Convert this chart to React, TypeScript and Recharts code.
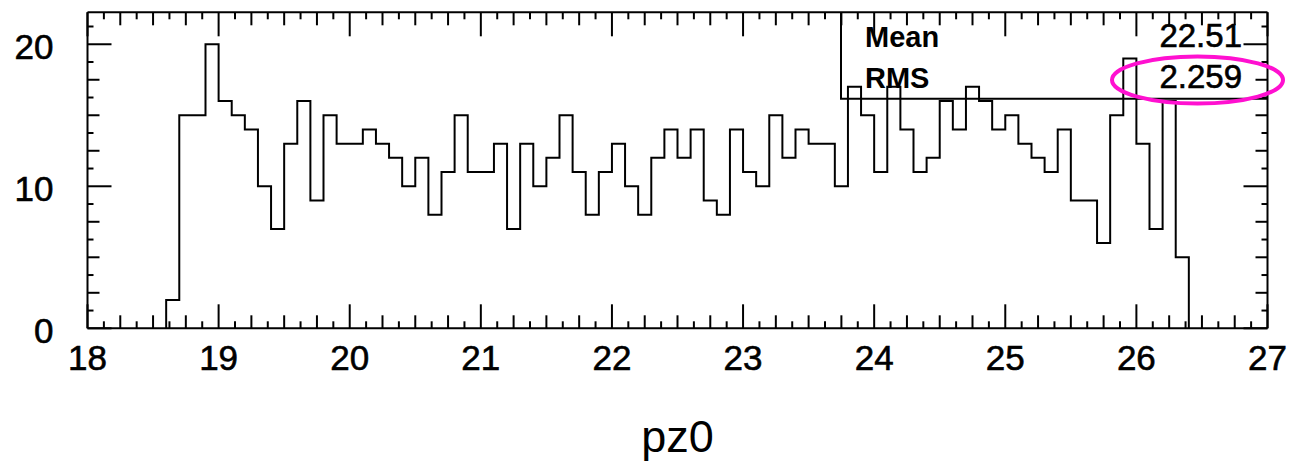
import React from 'react'
import { LineChart, Line, XAxis, YAxis } from 'recharts'

// histogram pz0: bins of 0.1 starting at 18.6
const binStart = 18.6
const binWidth = 0.1
const counts = [
  2, 15, 15, 20, 16, 15, 14, 10, 7, 13,
  16, 9, 15, 13, 13, 14, 13, 12, 10, 12,
  8, 11, 15, 11, 11, 13, 7, 13, 10, 12,
  15, 11, 8, 11, 13, 10, 8, 12, 14, 12,
  14, 9, 8, 14, 11, 10, 15, 12, 14, 13,
  13, 10, 17, 15, 11, 17, 14, 11, 12, 16,
  14, 17, 16, 14, 15, 13, 12, 11, 14, 9,
  9, 6, 15, 19, 13, 7, 16, 5,
]

const xLabels = [18, 19, 20, 21, 22, 23, 24, 25, 26, 27]
const yLabels = [0, 10, 20]
const statNames = ['Mean', 'RMS']
const statValues = ['22.51', '2.259']

const FONT = '"Liberation Sans", Arial, Helvetica, sans-serif'
const W = 1293
const H = 465

const round3 = (v: number) => Math.round(v * 1000) / 1000

const histData = (() => {
  const pts: { x: number; y: number }[] = [{ x: binStart, y: 0 }]
  counts.forEach((c, i) => pts.push({ x: round3(binStart + i * binWidth), y: c }))
  const end = round3(binStart + counts.length * binWidth)
  pts.push({ x: end, y: counts[counts.length - 1] })
  pts.push({ x: end, y: 0 })
  return pts
})()

// ROOT style ticks: 8 divisions per unit on x, 1.25 steps on y
const xTicks: number[] = []
for (let v = 18; v <= 27.0001; v += 0.125) xTicks.push(round3(v))
const yTicks: number[] = []
for (let v = 0; v <= 22.2; v += 1.25) yTicks.push(round3(v))

const isInt = (v: number) => Math.abs(v - Math.round(v)) < 1e-6

const xLen = (v: number) => (isInt(v) ? 24 : isInt(v * 4) ? 13 : 7)
const yLen = (v: number) => (isInt(v / 10) ? 24 : isInt(v / 2.5) ? 12 : 6)

const BottomTick = ({ x, y, payload }: any) => {
  const v = payload.value
  return (
    <g>
      <line x1={x} x2={x} y1={y} y2={y - xLen(v)} stroke="#000" strokeWidth={2} />
      {xLabels.includes(v) && (
        <text x={x} y={y + 42} textAnchor="middle" fontFamily={FONT} fontSize={35} fill="#000" stroke="#000" strokeWidth={0.6}>
          {v}
        </text>
      )}
    </g>
  )
}

const TopTick = ({ x, y, payload }: any) => (
  <line x1={x} x2={x} y1={y} y2={y + xLen(payload.value)} stroke="#000" strokeWidth={2} />
)

const LeftTick = ({ x, y, payload }: any) => {
  const v = payload.value
  return (
    <g>
      <line x1={x} x2={x + yLen(v)} y1={y} y2={y} stroke="#000" strokeWidth={2} />
      {yLabels.includes(v) && (
        <text x={x - 34} y={y + 15} textAnchor="end" fontFamily={FONT} fontSize={35} fill="#000" stroke="#000" strokeWidth={0.6}>
          {v}
        </text>
      )}
    </g>
  )
}

const RightTick = ({ x, y, payload }: any) => (
  <line x1={x} x2={x - yLen(payload.value)} y1={y} y2={y} stroke="#000" strokeWidth={2} />
)

export default function App() {
  return (
    <div style={{ position: 'absolute', left: 0, top: 0, width: W, height: H, background: '#fff' }}>
      <LineChart
        width={W}
        height={H}
        data={histData}
        margin={{ top: 10.3, right: 15.5, left: 27.5, bottom: 96.7 }}
      >
        <XAxis
          xAxisId="b"
          dataKey="x"
          type="number"
          domain={[18, 27]}
          ticks={xTicks}
          interval={0}
          tickSize={0}
          tickMargin={0}
          tickLine={false}
          tick={<BottomTick />}
          height={40}
          stroke="#000"
          strokeWidth={2}
          allowDataOverflow
        />
        <XAxis
          xAxisId="t"
          orientation="top"
          dataKey="x"
          type="number"
          domain={[18, 27]}
          ticks={xTicks}
          interval={0}
          tickSize={0}
          tickMargin={0}
          tickLine={false}
          tick={<TopTick />}
          height={2}
          stroke="#000"
          strokeWidth={2}
          allowDataOverflow
        />
        <YAxis
          yAxisId="l"
          type="number"
          domain={[0, 22.25]}
          ticks={yTicks}
          interval={0}
          tickSize={0}
          tickMargin={0}
          tickLine={false}
          tick={<LeftTick />}
          width={60}
          stroke="#000"
          strokeWidth={2}
          allowDataOverflow
        />
        <YAxis
          yAxisId="r"
          orientation="right"
          type="number"
          domain={[0, 22.25]}
          ticks={yTicks}
          interval={0}
          tickSize={0}
          tickMargin={0}
          tickLine={false}
          tick={<RightTick />}
          width={10}
          stroke="#000"
          strokeWidth={2}
          allowDataOverflow
        />
        <Line
          xAxisId="b"
          yAxisId="l"
          type="stepAfter"
          dataKey="y"
          stroke="#000"
          strokeWidth={2}
          dot={false}
          activeDot={false}
          isAnimationActive={false}
        />
      </LineChart>
      <svg
        width={W}
        height={H}
        style={{ position: 'absolute', left: 0, top: 0, pointerEvents: 'none' }}
      >
        <path d="M841 12.3 V98.7 H1267.5" fill="none" stroke="#000" strokeWidth={2} />
        {statNames.map((n, i) => (
          <text
            key={n}
            x={865}
            y={47 + i * 41}
            fontFamily={FONT}
            fontWeight="bold"
            fontSize={29}
            fill="#000"
          >
            {n}
          </text>
        ))}
        {statValues.map((v, i) => (
          <text
            key={v}
            x={1242}
            y={47 + i * 41}
            textAnchor="end"
            fontFamily={FONT}
            fontSize={33}
            fill="#000"
            stroke="#000"
            strokeWidth={0.6}
          >
            {v}
          </text>
        ))}
        <ellipse cx={1197.5} cy={80} rx={85.5} ry={23.5} fill="none" stroke="#ff10d0" strokeWidth={4} />
        <text x={677.5} y={452} textAnchor="middle" fontFamily={FONT} fontSize={45} fill="#000">
          pz0
        </text>
      </svg>
    </div>
  )
}
